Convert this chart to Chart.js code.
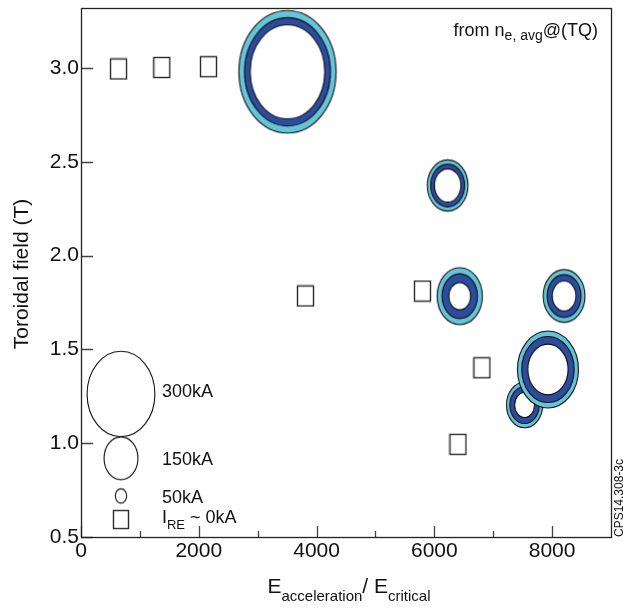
<!DOCTYPE html>
<html>
<head>
<meta charset="utf-8">
<script src="https://cdn.jsdelivr.net/npm/chart.js@4.4.1/dist/chart.umd.min.js"></script>
<style>
  html, body { margin: 0; padding: 0; background: #fff; }
  canvas { display: block; }
</style>
</head>
<body>
<canvas id="myChart" width="623" height="608"></canvas>
<script>
// discharges with runaway current: position + outer/middle/inner ring current (kA)
const ringX = [3506, 6226, 6431, 8204, 7533, 7929];
const ringY = [2.98, 2.374, 1.784, 1.785, 1.204, 1.393];
const ringOuterKA = [430, 180, 200, 185, 160, 270];
const ringMidKA = [380, 150, 157, 150, 130, 232];
const ringInnerKA = [330, 117, 96, 105, 88, 178];

// discharges with I_RE ~ 0kA
const squareX = [637, 1372, 2165, 3812, 5798, 6808, 6401];
const squareY = [2.995, 3.003, 3.007, 1.785, 1.811, 1.402, 0.994];

// size key drawn inside the plot
const keyX = [679, 679, 679];
const keyY = [1.262, 0.92, 0.719];
const keyKA = [300, 150, 50];
const keyLabels = ["300kA", "150kA", "50kA"];
const keySquareX = [679];
const keySquareY = [0.593];

const xTicks = [0, 2000, 4000, 6000, 8000];
const xMinorTicks = [1000, 3000, 5000, 7000];
const yTicks = [0.5, 1.0, 1.5, 2.0, 2.5, 3.0];

const FONT = "'Liberation Sans', Arial, sans-serif";
const INK = "#111";
const PX_PER_KA = 0.226; // ellipse width in px per kA
const ASPECT = 1.26;
const LIGHT = "#66c4d9";
const DARK = "#2c4c9e";
const EDGE = "#111";

function ellipse(g, cx, cy, ka, fill) {
  const rx = (ka * PX_PER_KA) / 2;
  const ry = rx * ASPECT;
  g.beginPath();
  g.ellipse(cx, cy, rx, ry, 0, 0, Math.PI * 2);
  g.fillStyle = fill;
  g.fill();
  g.lineWidth = 1.1;
  g.strokeStyle = EDGE;
  g.stroke();
}

function ringImage(outer, mid, inner) {
  const c = document.createElement("canvas");
  c.width = Math.ceil(outer * PX_PER_KA) + 4;
  c.height = Math.ceil(outer * PX_PER_KA * ASPECT) + 4;
  const g = c.getContext("2d");
  ellipse(g, c.width / 2, c.height / 2, outer, LIGHT);
  ellipse(g, c.width / 2, c.height / 2, mid, DARK);
  ellipse(g, c.width / 2, c.height / 2, inner, "#fff");
  return c;
}

function keyImage(ka) {
  const c = document.createElement("canvas");
  c.width = Math.ceil(ka * PX_PER_KA) + 4;
  c.height = Math.ceil(ka * PX_PER_KA * ASPECT) + 4;
  const g = c.getContext("2d");
  ellipse(g, c.width / 2, c.height / 2, ka, "#fff");
  return c;
}

function squareImage(w, h) {
  const c = document.createElement("canvas");
  c.width = w + 3;
  c.height = h + 3;
  const g = c.getContext("2d");
  g.lineWidth = 1.4;
  g.strokeStyle = "#2a2a2a";
  g.strokeRect(1.5, 1.5, w, h);
  return c;
}

function richText(g, parts, x, y, align) {
  let w = 0;
  parts.forEach((p) => {
    g.font = p.size + "px " + FONT;
    w += g.measureText(p.t).width;
  });
  let cx = align === "center" ? x - w / 2 : align === "right" ? x - w : x;
  g.textAlign = "left";
  g.textBaseline = "alphabetic";
  parts.forEach((p) => {
    g.font = p.size + "px " + FONT;
    g.fillText(p.t, cx, y + (p.dy || 0));
    cx += g.measureText(p.t).width;
  });
}

const decorations = {
  id: "decorations",
  afterDraw(chart) {
    const g = chart.ctx;
    const a = chart.chartArea;
    const xs = chart.scales.x;
    const ys = chart.scales.y;
    g.save();

    // inward tick marks
    g.strokeStyle = "#444";
    g.lineWidth = 1.3;
    g.beginPath();
    yTicks.forEach((v) => {
      const py = Math.round(ys.getPixelForValue(v)) + 0.5;
      g.moveTo(a.left, py);
      g.lineTo(a.left + 12, py);
    });
    xTicks.forEach((v) => {
      const px = Math.round(xs.getPixelForValue(v)) + 0.5;
      g.moveTo(px, a.bottom);
      g.lineTo(px, a.bottom - 11);
    });
    xMinorTicks.forEach((v) => {
      const px = Math.round(xs.getPixelForValue(v)) + 0.5;
      g.moveTo(px, a.bottom);
      g.lineTo(px, a.bottom - 6);
    });
    g.stroke();

    // frame
    g.strokeStyle = "#222";
    g.lineWidth = 1.3;
    g.strokeRect(a.left + 0.5, a.top + 0.5, a.right - a.left, a.bottom - a.top);

    g.fillStyle = INK;

    // key labels
    const lx = xs.getPixelForValue(keyX[0]) + 41;
    const dys = [3, 7, 7];
    keyLabels.forEach((t, i) => {
      richText(g, [{ t, size: 18 }], lx, ys.getPixelForValue(keyY[i]) + dys[i], "left");
    });
    richText(g, [
      { t: "I", size: 18 },
      { t: "RE", size: 13, dy: 6 },
      { t: " ~ 0kA", size: 18 },
    ], lx, ys.getPixelForValue(keySquareY[0]) + 3.5, "left");

    // annotation
    richText(g, [
      { t: "from n", size: 18 },
      { t: "e, avg", size: 14, dy: 4 },
      { t: "@(TQ)", size: 18 },
    ], a.right - 13, a.top + 28, "right");

    // x title
    richText(g, [
      { t: "E", size: 21 },
      { t: "acceleration", size: 15, dy: 8 },
      { t: "/ E", size: 21 },
      { t: "critical", size: 15, dy: 8 },
    ], (a.left + a.right) / 2 + 3, 593, "center");

    // y title
    g.save();
    g.translate(28, (a.top + a.bottom) / 2 + 1.5);
    g.rotate(-Math.PI / 2);
    g.font = "21px " + FONT;
    g.textAlign = "center";
    g.textBaseline = "alphabetic";
    g.fillText("Toroidal field (T)", 0, 0);
    g.restore();

    // figure id
    g.save();
    g.translate(622.5, a.bottom);
    g.rotate(-Math.PI / 2);
    g.font = "12px " + FONT;
    g.textAlign = "left";
    g.textBaseline = "alphabetic";
    g.fillText("CPS14.308-3c", 0, 0);
    g.restore();

    g.restore();
  },
};

const ctx = document.getElementById("myChart");
const ringStyles = ringX.map((_, i) => ringImage(ringOuterKA[i], ringMidKA[i], ringInnerKA[i]));
const keyStyles = keyKA.map((ka) => keyImage(ka));
const squareStyle = squareImage(16, 20);
const keySquareStyle = squareImage(15, 18);

new Chart(ctx, {
  type: "scatter",
  data: {
    datasets: [
      {
        label: "I_RE",
        data: ringX.map((x, i) => ({ x, y: ringY[i] })),
        pointStyle: ringStyles,
        pointRadius: 1,
      },
      {
        label: "I_RE ~ 0kA",
        data: squareX.map((x, i) => ({ x, y: squareY[i] })),
        pointStyle: squareStyle,
        pointRadius: 1,
      },
      {
        label: "key",
        data: keyX.map((x, i) => ({ x, y: keyY[i] })),
        pointStyle: keyStyles,
        pointRadius: 1,
      },
      {
        label: "key square",
        data: keySquareX.map((x, i) => ({ x, y: keySquareY[i] })),
        pointStyle: keySquareStyle,
        pointRadius: 1,
      },
    ],
  },
  options: {
    responsive: false,
    animation: false,
    events: [],
    layout: { padding: { top: 8, right: 12, left: 0, bottom: 0 } },
    plugins: { legend: { display: false }, tooltip: { enabled: false } },
    scales: {
      x: {
        type: "linear",
        min: 0,
        max: 9000,
        grid: { display: false, drawTicks: false },
        border: { display: false },
        afterBuildTicks: (s) => { s.ticks = xTicks.map((v) => ({ value: v })); },
        afterFit: (s) => {
          s.height = 71;
          s.paddingLeft = 0;
          s.paddingRight = 0;
        },
        ticks: {
          autoSkip: false,
          maxRotation: 0,
          padding: 2,
          color: INK,
          font: { family: FONT, size: 21 },
          callback: (v) => String(v),
        },
      },
      y: {
        type: "linear",
        min: 0.5,
        max: 3.32,
        grid: { display: false, drawTicks: false },
        border: { display: false },
        afterBuildTicks: (s) => { s.ticks = yTicks.map((v) => ({ value: v })); },
        afterFit: (s) => {
          s.width = 81;
          s.paddingTop = 0;
          s.paddingBottom = 0;
        },
        ticks: {
          autoSkip: false,
          padding: 2,
          color: INK,
          font: { family: FONT, size: 21 },
          callback: (v) => v.toFixed(1),
        },
      },
    },
  },
  plugins: [decorations],
});
</script>
</body>
</html>
